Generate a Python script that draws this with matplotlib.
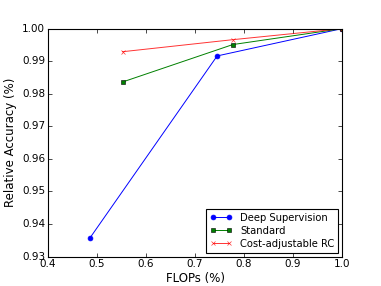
import numpy as np
import matplotlib
matplotlib.use('Agg')
import matplotlib.pyplot as plt

plt.style.use('classic')

# FLOPs fraction vs relative accuracy
flops_ds = [0.486, 0.745, 1.0]
acc_ds = [0.9358, 0.9916, 1.0]

flops_std = [0.552, 0.777, 1.0]
acc_std = [0.9836, 0.9951, 1.0]

flops_rc = [0.552, 0.777, 1.0]
acc_rc = [0.9929, 0.9966, 1.0]

fig = plt.figure(figsize=(3.81, 2.86), dpi=100)
fig.patch.set_facecolor('white')
ax = fig.add_axes([0.126, 0.103, 0.772, 0.797])

ax.plot(flops_ds, acc_ds, 'b-o', lw=0.7, ms=3.5, mec='b', label='Deep Supervision')
ax.plot(flops_std, acc_std, 'g-s', lw=0.7, ms=3.5, mec='k', mew=0.4, label='Standard')
ax.plot(flops_rc, acc_rc, 'r-x', lw=0.7, ms=3.5, alpha=0.8, label='Cost-adjustable RC')

ax.set_xlim(0.4, 1.0)
ax.set_ylim(0.93, 1.0)
ax.set_xticks(np.arange(0.4, 1.01, 0.1))
ax.set_yticks(np.arange(0.93, 1.001, 0.01))
ax.tick_params(labelsize=7.5, length=3, width=0.5, pad=2)
for s in ax.spines.values():
    s.set_linewidth(0.8)
ax.set_xlabel('FLOPs (%)', fontsize=8.5, labelpad=2)
ax.set_ylabel('Relative Accuracy (%)', fontsize=8.5, labelpad=4)

leg = ax.legend(loc='lower right', fontsize=7.2, numpoints=2, handlelength=2.2,
                borderpad=0.4, labelspacing=0.3, borderaxespad=0.4)
leg.get_frame().set_linewidth(0.8)

fig.savefig('out.png', dpi=100, facecolor='white')
